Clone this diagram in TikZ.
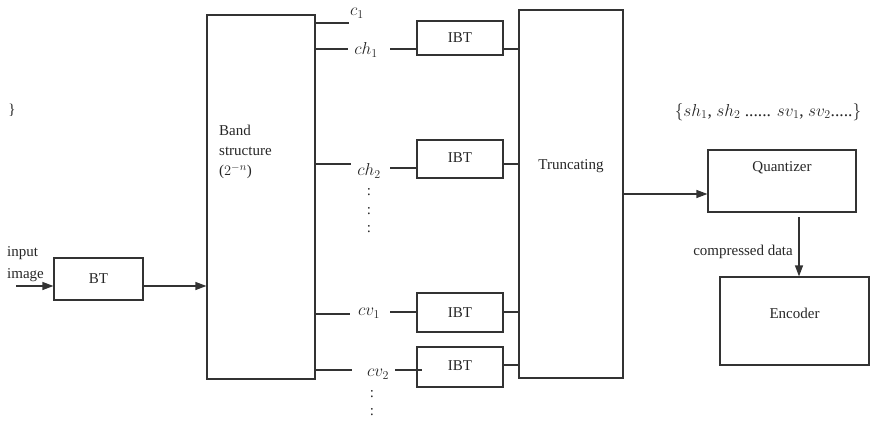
\documentclass[tikz,border=0pt]{standalone}
\usepackage{fontspec}
\setmainfont{Liberation Serif}
\usetikzlibrary{arrows.meta}
\begin{document}
\begin{tikzpicture}[x=1pt,y=-1pt,
  every node/.style={font=\fontsize{15}{17}\selectfont, text=black!85},
  blk/.style={draw=black!80, line width=1.2pt, rectangle, inner sep=0pt},
  conn/.style={draw=black!80, line width=1.2pt},
  arr/.style={conn, -{Triangle[length=11pt,width=8pt]}},
  lbl/.style={inner sep=1pt},
  mlbl/.style={inner sep=1pt, font=\fontsize{17}{19}\selectfont}]
\useasboundingbox (0,0) rectangle (872,422);
% blocks
\node[blk, minimum width=89pt, minimum height=42pt] (bt) at (98.5,279) {BT};
\node[blk, minimum width=108pt, minimum height=364pt] (band) at (261,197) {};
\node[anchor=west, align=left, inner sep=0pt, font=\fontsize{15}{20}\selectfont] (bandtxt) at (219,152) {Band\\structure\\($2^{-n}$)};
\node[blk, minimum width=86pt, minimum height=34pt] (ibt1) at (460,38) {IBT};
\node[blk, minimum width=86pt, minimum height=38pt] (ibt2) at (460,159) {\raisebox{3pt}{IBT}};
\node[blk, minimum width=86pt, minimum height=39pt] (ibt3) at (460,312.5) {IBT};
\node[blk, minimum width=86pt, minimum height=40pt] (ibt4) at (460,367) {\raisebox{3pt}{IBT}};
\node[blk, minimum width=104pt, minimum height=368pt] (trunc) at (571,194) {};
\node (trunctxt) at (571,166) {Truncating};
\node[blk, minimum width=148pt, minimum height=62pt] (quant) at (782,181) {};
\node (quanttxt) at (782,168) {Quantizer};
\node[blk, minimum width=149pt, minimum height=88pt] (enc) at (794.5,321) {};
\node (enctxt) at (794.5,313) {Encoder};
% labels
\node[mlbl] (c1) at (357,13) {$c_1$};
\node[mlbl] (ch1) at (366,50) {$ch_1$};
\node[mlbl] (ch2) at (369,171) {$ch_2$};
\node[mlbl] (cv1) at (369,313) {$cv_1$};
\node[mlbl] (cv2) at (378,374) {$cv_2$};
\node[lbl] (d1) at (369,192) {:};
\node[lbl] (d2) at (369,211) {:};
\node[lbl] (d3) at (369,229) {:};
\node[lbl] (d4) at (372,394) {:};
\node[lbl] (d5) at (372,412) {:};
\node[lbl] (brace) at (12,110) {\}};
\node[mlbl, font=\fontsize{17.5}{19}\selectfont] (settxt) at (768,112) {$\{sh_1$, $sh_2$ ...... $sv_1$, $sv_2$.....$\}$};
\node[anchor=east, lbl] (comp) at (794,252) {compressed data};
\node[anchor=west, align=left, inner sep=0pt, font=\fontsize{15}{22}\selectfont] (inp) at (7,264) {input\\image};
% coordinates
\coordinate (in) at (16,286);
\coordinate (e1) at (349,23);
\coordinate (e2) at (348,49);
\coordinate (e3) at (351,164);
\coordinate (e4) at (350,314);
\coordinate (e5) at (352,370);
\coordinate (s2) at (390,49);
\coordinate (s3) at (390,168);
\coordinate (s4) at (390,312);
\coordinate (s5) at (395,370);
\coordinate (t5) at (422,370);
\coordinate (qin) at (623,194);
\coordinate (qout) at (799,217);
% connectors
\draw[arr] (in) -- (in -| bt.west);
\draw[arr] (in -| bt.east) -- (in -| band.west);
\draw[conn] (band.east |- e1) -- (e1);
\draw[conn] (band.east |- e2) -- (e2);
\draw[conn] (band.east |- e3) -- (e3);
\draw[conn] (band.east |- e4) -- (e4);
\draw[conn] (band.east |- e5) -- (e5);
\draw[conn] (s2) -- (s2 -| ibt1.west);
\draw[conn] (s3) -- (s3 -| ibt2.west);
\draw[conn] (s4) -- (s4 -| ibt3.west);
\draw[conn] (s5) -- (t5);
\draw[conn] (ibt1.east |- 0,49) -- (trunc.west |- 0,49);
\draw[conn] (ibt2.east |- 0,164) -- (trunc.west |- 0,164);
\draw[conn] (ibt3.east |- 0,312) -- (trunc.west |- 0,312);
\draw[conn] (ibt4.east |- 0,365) -- (trunc.west |- 0,365);
\draw[arr] (trunc.east |- qin) -- (qin -| quant.west);
\draw[arr] (qout) -- (qout |- enc.north);
\end{tikzpicture}
\end{document}
